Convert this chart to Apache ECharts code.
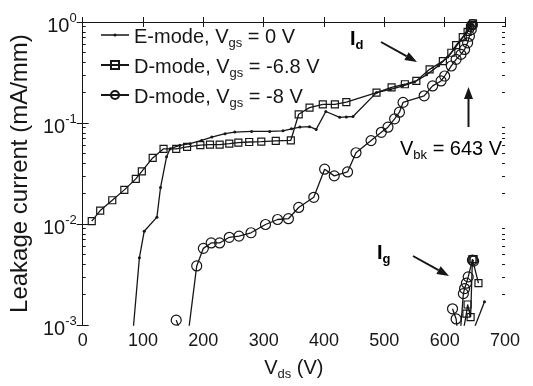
<!DOCTYPE html>
<html>
<head>
<meta charset="utf-8">
<script src="https://cdn.jsdelivr.net/npm/echarts@6/dist/echarts.min.js"></script>
<style>
  html, body { margin: 0; padding: 0; background: #fff; }
  #chart { width: 533px; height: 386px; }
</style>
</head>
<body>
<div id="chart"></div>
<script>
const seriesNames = ['E-mode', 'D-mode -6.8', 'D-mode -8']
const legendLabels = [
  '{n|E-mode, V}{s|gs}{n| = 0 V}',
  '{n|D-mode, V}{s|gs}{n| = -6.8 V}',
  '{n|D-mode, V}{s|gs}{n| = -8 V}'
]

// drain leakage Id, [Vds (V), current (mA/mm)]
const eModeId = [
  [80, 0.0005], [94, 0.00465], [102, 0.0085], [123, 0.0117], [129, 0.023], [139, 0.0463],
  [145, 0.0558], [161, 0.0601], [178, 0.0625], [197, 0.0673], [214, 0.0727], [236, 0.0784],
  [252, 0.0814], [280, 0.0826], [310, 0.0826], [332, 0.0838], [346, 0.0877], [360, 0.0912],
  [376, 0.092], [387, 0.0865], [403, 0.13], [426, 0.114], [437, 0.115], [448, 0.116],
  [487, 0.2], [510, 0.215], [530, 0.232], [550, 0.255], [570, 0.3], [590, 0.37], [605, 0.45],
  [617, 0.55], [627, 0.66], [635, 0.78], [640, 0.87], [644, 0.95]
]
const dMode68Id = [
  [15, 0.0107], [29, 0.0136], [49, 0.0172], [69, 0.0218], [88, 0.028], [98, 0.0332],
  [116, 0.0452], [134, 0.0555], [155, 0.0556], [173, 0.058], [195, 0.0605], [211, 0.061],
  [227, 0.0611], [243, 0.0625], [258, 0.064], [276, 0.0649], [296, 0.0655], [320, 0.0665],
  [345, 0.0675], [358, 0.122], [376, 0.142], [398, 0.153], [418, 0.153], [437, 0.161],
  [487, 0.2], [512, 0.225], [534, 0.242], [553, 0.261], [575, 0.34], [597, 0.41], [611, 0.496],
  [619, 0.59], [630, 0.71], [638, 0.8], [642, 0.88], [645, 0.93], [647, 0.97]
]
const dMode8Id = [
  [155, 0.00112], [172, 0.0006], [189, 0.00385], [200, 0.00575], [213, 0.0065], [227, 0.0065],
  [243, 0.0074], [259, 0.0076], [279, 0.0082], [303, 0.0099], [323, 0.0111], [341, 0.0113],
  [358, 0.0146], [383, 0.0184], [401, 0.0349], [417, 0.030], [439, 0.0328], [453, 0.0508],
  [478, 0.067], [495, 0.081], [506, 0.091], [517, 0.11], [525, 0.128], [531, 0.16],
  [566, 0.186], [580, 0.233], [594, 0.261], [600, 0.292], [611, 0.367], [619, 0.427],
  [627, 0.478], [633, 0.535], [638, 0.622], [641, 0.723], [644, 0.84], [646, 0.94]
]

// gate leakage Ig near breakdown
const eModeIg = [[648, 0.0009], [666, 0.0017]]
const dMode68Ig = [
  [628, 0.0007], [636, 0.0013], [638, 0.0016], [643, 0.0012], [646, 0.0045], [648, 0.0045], [656, 0.0026]
]
const dMode8Ig = [
  [613, 0.00145], [619, 0.00115], [624, 0.0006], [631, 0.00205], [633, 0.0023], [636, 0.0026],
  [639, 0.003], [646, 0.0044], [648, 0.0043]
]

const yTickExponents = ['-3', '-2', '-1', '0']
const xAxisTitle = '{n|V}{s|ds}{n| (V)}'
const yAxisTitle = 'Leakage current (mA/mm)'

const FONT = "'Liberation Sans', Arial, Helvetica, sans-serif"
const INK = '#161616'

const subRich = {
  n: { fontSize: 20, lineHeight: 22, padding: [3, 0, 3, 0], verticalAlign: 'top', fontFamily: FONT, color: INK },
  s: { fontSize: 13, lineHeight: 14, padding: [13, 0, 0, 0], verticalAlign: 'top', fontFamily: FONT, color: INK }
}
const boldRich = {
  n: { ...subRich.n, fontWeight: 'bold' },
  s: { ...subRich.s, fontWeight: 'bold' }
}

// minor log ticks (2..9 in each decade), in log10 units
const minorTicks = []
for (let d = -3; d < 0; d++) {
  for (let k = 2; k <= 9; k++) minorTicks.push(d + Math.log10(k))
}

const chart = echarts.init(document.getElementById('chart'))

const markerStyles = [
  { symbol: 'circle', symbolSize: 3, itemStyle: { color: INK } },
  { symbol: 'rect', symbolSize: 7, itemStyle: { color: 'rgba(0,0,0,0)', borderColor: INK, borderWidth: 1.2 } },
  { symbol: 'circle', symbolSize: 10, itemStyle: { color: 'rgba(0,0,0,0)', borderColor: INK, borderWidth: 1.2 } }
]

function lineSeries(name, data, styleIndex) {
  return {
    name,
    type: 'line',
    data,
    xAxisIndex: 0,
    yAxisIndex: 0,
    showAllSymbol: true,
    ...markerStyles[styleIndex],
    lineStyle: { color: INK, width: 1.3 },
    emphasis: { disabled: true },
    clip: true,
    z: 3
  }
}

function arrow(x1, y1, x2, y2) {
  const dx = x2 - x1, dy = y2 - y1
  const len = Math.sqrt(dx * dx + dy * dy)
  const ux = dx / len, uy = dy / len
  const headLen = 12, half = 4.5
  const bx = x2 - ux * headLen, by = y2 - uy * headLen
  return [
    { type: 'line', shape: { x1, y1, x2: bx, y2: by }, style: { stroke: INK, lineWidth: 2 } },
    {
      type: 'polygon',
      shape: { points: [[x2, y2], [bx - uy * half, by + ux * half], [bx + uy * half, by - ux * half]] },
      style: { fill: INK }
    }
  ]
}

const tickLine = { color: INK, width: 1 }

// E-mode legend icon: thin line with a small dot
const eModeIcon = 'path://M0,1 L28,1 L28,2.3 L0,2.3 Z M12.4,1.65 A1.6,1.6 0 1 1 15.6,1.65 A1.6,1.6 0 1 1 12.4,1.65 Z'

chart.setOption({
  animation: false,
  backgroundColor: '#fff',
  textStyle: { fontFamily: FONT, color: INK },
  grid: { left: 82, top: 22, width: 423, height: 306 },
  legend: {
    data: [
      { name: seriesNames[0], icon: eModeIcon },
      { name: seriesNames[1] },
      { name: seriesNames[2] }
    ],
    orient: 'vertical',
    left: 100,
    top: 24,
    padding: 0,
    itemGap: 4,
    itemWidth: 28,
    itemHeight: 10,
    formatter: name => legendLabels[seriesNames.indexOf(name)],
    textStyle: { fontFamily: FONT, color: INK, rich: subRich },
    selectedMode: false
  },
  xAxis: [
    {
      type: 'value', min: 0, max: 700, interval: 100, position: 'bottom',
      axisLine: { show: true, lineStyle: tickLine },
      axisTick: { inside: true, length: 5, lineStyle: tickLine },
      axisLabel: { fontSize: 18, color: INK, fontFamily: FONT, margin: 7 },
      splitLine: { show: false },
      name: xAxisTitle, nameLocation: 'middle', nameGap: 26,
      nameTextStyle: { rich: subRich }
    },
    {
      type: 'value', min: 0, max: 700, interval: 100, position: 'top',
      axisLine: { show: true, lineStyle: tickLine },
      axisTick: { inside: true, length: 5, lineStyle: tickLine },
      axisLabel: { show: false },
      splitLine: { show: false }
    }
  ],
  yAxis: [
    {
      type: 'log', logBase: 10, min: 0.001, max: 1, position: 'left',
      axisLine: { show: true, lineStyle: tickLine },
      axisTick: { inside: true, length: 6, lineStyle: tickLine },
      axisLabel: {
        margin: 6,
        formatter: v => '{b|10}{p|' + yTickExponents[Math.round(Math.log10(v)) + 3] + '}',
        rich: {
          b: { fontSize: 20, lineHeight: 20, padding: [4, 0, 0, 0], verticalAlign: 'top', fontFamily: FONT, color: INK },
          p: { fontSize: 13, lineHeight: 13, verticalAlign: 'top', fontFamily: FONT, color: INK }
        }
      },
      splitLine: { show: false },
      name: yAxisTitle, nameLocation: 'middle', nameGap: 49,
      nameTextStyle: { fontSize: 24, fontFamily: FONT, color: INK }
    },
    {
      type: 'log', logBase: 10, min: 0.001, max: 1, position: 'right',
      axisLine: { show: true, lineStyle: tickLine },
      axisTick: { inside: true, length: 6, lineStyle: tickLine },
      axisLabel: { show: false },
      splitLine: { show: false }
    },
    {
      type: 'value', min: -3, max: 0, position: 'left',
      axisLine: { show: false },
      axisTick: { inside: true, length: 3, lineStyle: tickLine, customValues: minorTicks },
      axisLabel: { show: false, customValues: minorTicks },
      splitLine: { show: false }
    },
    {
      type: 'value', min: -3, max: 0, position: 'right',
      axisLine: { show: false },
      axisTick: { inside: true, length: 3, lineStyle: tickLine, customValues: minorTicks },
      axisLabel: { show: false, customValues: minorTicks },
      splitLine: { show: false }
    }
  ],
  series: [
    lineSeries(seriesNames[0], eModeId, 0),
    lineSeries(seriesNames[1], dMode68Id, 1),
    lineSeries(seriesNames[2], dMode8Id, 2),
    lineSeries('Ig ' + seriesNames[0], eModeIg, 0),
    lineSeries('Ig ' + seriesNames[1], dMode68Ig, 1),
    lineSeries('Ig ' + seriesNames[2], dMode8Ig, 2)
  ],
  graphic: [
    { type: 'text', left: 350, top: 26, style: { text: '{n|I}{s|d}', rich: boldRich } },
    { type: 'text', left: 377, top: 240, style: { text: '{n|I}{s|g}', rich: boldRich } },
    { type: 'text', left: 400, top: 136, style: { text: '{n|V}{s|bk}{n| = 643 V}', rich: subRich } },
    ...arrow(381, 42, 417, 62),
    ...arrow(413, 256, 449, 276),
    ...arrow(468.5, 127, 468.5, 87)
  ]
})
</script>
</body>
</html>
